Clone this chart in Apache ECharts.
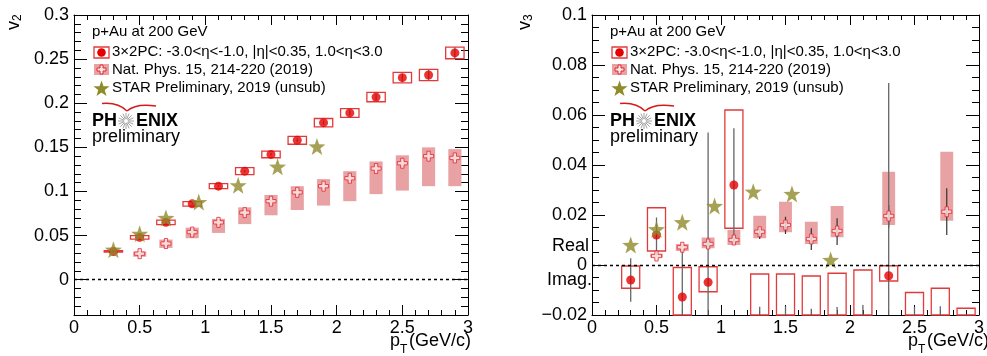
<!DOCTYPE html>
<meta charset="utf-8">
<style>
html, body { margin: 0; padding: 0; background: #fff; }
#container { width: 987px; height: 356px; }
</style>
<body>
<div id="container"></div>
<script src="https://cdn.jsdelivr.net/npm/echarts@6/dist/echarts.min.js"></script>
<script>

// ---- v2 panel ----
var ptV2 = [0.3, 0.5, 0.7, 0.9, 1.1, 1.3, 1.5, 1.7, 1.9, 2.1, 2.3, 2.5, 2.7, 2.9];
var v2Pc = [0.032, 0.048, 0.065, 0.086, 0.106, 0.123, 0.142, 0.158, 0.178, 0.189, 0.207, 0.229, 0.232, 0.257];
var v2PcSys = [0.0008, 0.0019, 0.0025, 0.0025, 0.0028, 0.004, 0.0038, 0.0045, 0.0047, 0.005, 0.0053, 0.0059, 0.0064, 0.0066];
var v2PcStat = [0.0003, 0.0005, 0.0006, 0.0008, 0.001, 0.0013, 0.0016, 0.002, 0.0025, 0.003, 0.0035, 0.0045, 0.0055, 0.0065];

var ptNat2 = [0.5, 0.7, 0.9, 1.1, 1.3, 1.5, 1.7, 1.9, 2.1, 2.3, 2.5, 2.7, 2.9];
var v2Nat = [0.0295, 0.041, 0.054, 0.065, 0.076, 0.089, 0.099, 0.106, 0.115, 0.126, 0.132, 0.140, 0.138];
var v2NatLo = [0.026, 0.036, 0.047, 0.053, 0.063, 0.073, 0.079, 0.084, 0.089, 0.097, 0.101, 0.106, 0.106];
var v2NatHi = [0.032, 0.0455, 0.059, 0.069, 0.082, 0.096, 0.106, 0.114, 0.123, 0.134, 0.141, 0.150, 0.148];

var ptStar2 = [0.3, 0.5, 0.7, 0.95, 1.25, 1.55, 1.85];
var v2Star = [0.034, 0.052, 0.070, 0.088, 0.107, 0.128, 0.151];

// ---- v3 panel ----
var ptV3 = [0.3, 0.5, 0.7, 0.9, 1.1, 1.3, 1.5, 1.7, 1.9, 2.1, 2.3, 2.5, 2.7, 2.9];
var v3Pc = [-0.006, 0.012, -0.0128, -0.0069, 0.032, -0.03, -0.03, -0.031, -0.03, -0.029, -0.0043, -0.032, -0.031, -0.035];
var v3PcLo = [-0.0093, 0.0056, -0.0245, -0.0107, 0.0147, -0.056, -0.056, -0.058, -0.057, -0.056, -0.0064, -0.053, -0.053, -0.053];
var v3PcHi = [-0.0004, 0.0229, -0.001, -0.0007, 0.062, -0.0036, -0.0036, -0.0044, -0.0033, -0.002, -0.0003, -0.011, -0.0093, -0.0173];
var v3StatLo = [-0.0147, 0.004, -0.032, -0.067, 0.008, -0.043, -0.043, -0.045, -0.043, -0.042, -0.081, -0.047, -0.046, -0.05];
var v3StatHi = [0.0027, 0.019, 0.006, 0.053, 0.0547, -0.0167, -0.0165, -0.0175, -0.0168, -0.016, 0.0728, -0.0167, -0.0165, -0.02];

var ptNat3 = [0.5, 0.7, 0.9, 1.1, 1.3, 1.5, 1.7, 1.9, 2.3, 2.75];
var v3Nat = [0.0036, 0.0071, 0.0084, 0.010, 0.0133, 0.016, 0.0104, 0.0136, 0.0196, 0.0213];
var v3NatLo = [0.003, 0.0056, 0.0067, 0.008, 0.0107, 0.0131, 0.0084, 0.0111, 0.016, 0.0177];
var v3NatHi = [0.0045, 0.0084, 0.011, 0.014, 0.0197, 0.0253, 0.0173, 0.0236, 0.0373, 0.0453];
var v3NatStatLo = [0.0036, 0.0071, 0.0084, 0.0095, 0.0104, 0.0124, 0.006, 0.008, 0.0149, 0.012];
var v3NatStatHi = [0.0036, 0.0071, 0.0084, 0.0105, 0.0147, 0.0193, 0.0147, 0.0187, 0.024, 0.0307];

var ptStar3 = [0.3, 0.5, 0.7, 0.95, 1.25, 1.55, 1.85];
var v3Star = [0.008, 0.0143, 0.0171, 0.0236, 0.0293, 0.0284, 0.002];

var v2Ticks = [0, 0.05, 0.1, 0.15, 0.2, 0.25, 0.3];

var legendTexts = ['3\u00d72PC: -3.0<\u03b7<-1.0, |\u03b7|<0.35, 1.0<\u03b7<3.0',
                   'Nat. Phys. 15, 214-220 (2019)',
                   'STAR Preliminary, 2019 (unsub)'];

var FONT = '"Liberation Sans", Arial, Helvetica, sans-serif';
var RED = '#e50000', BOXRED = '#e23a3a', PINK = '#e9a2a3', OLIVE = '#8e8b2a', BARGRAY = '#666';
var STAR = 'path://M0,-10L2.35,-3.24L9.51,-3.09L3.8,1.24L5.88,8.09L0,4L-5.88,8.09L-3.8,1.24L-9.51,-3.09L-2.35,-3.24Z';
var CROSS = 'path://M-1,-3L1,-3L1,-1L3,-1L3,1L1,1L1,3L-1,3L-1,1L-3,1L-3,-1L-1,-1Z';

function zip(xs, a, b) {
  return xs.map(function (x, i) { return b ? [x, a[i], b[i]] : [x, a[i]]; });
}
function symm(xs, v, e) {
  return xs.map(function (x, i) { return [x, v[i] - e[i], v[i] + e[i]]; });
}

function boxRender(hw, style) {
  return function (params, api) {
    var a = api.coord([api.value(0) - hw, api.value(2)]);
    var b = api.coord([api.value(0) + hw, api.value(1)]);
    var rect = echarts.graphic.clipRectByRect(
      { x: a[0], y: a[1], width: b[0] - a[0], height: b[1] - a[1] }, params.coordSys);
    if (!rect) return;
    return { type: 'rect', shape: rect, style: Object.assign({}, style) };
  };
}

function barRender(color, width) {
  return function (params, api) {
    var cs = params.coordSys;
    var a = api.coord([api.value(0), api.value(2)]);
    var b = api.coord([api.value(0), api.value(1)]);
    var y1 = Math.max(a[1], cs.y), y2 = Math.min(b[1], cs.y + cs.height);
    if (y2 - y1 < 0.5) return;
    return { type: 'line', shape: { x1: a[0], y1: y1, x2: a[0], y2: y2 },
             style: { stroke: color, lineWidth: width } };
  };
}

var blk = { color: '#000', width: 1 };
function xAx(grid, pos) {
  return {
    type: 'value', gridIndex: grid, min: 0, max: 3, interval: 0.5, position: pos,
    axisLine: { show: true, onZero: false, lineStyle: blk },
    axisTick: { show: true, inside: true, length: 10, lineStyle: blk },
    minorTick: { show: true, splitNumber: 5, length: 5, lineStyle: blk },
    axisLabel: { show: pos === 'bottom', margin: 4, fontSize: 18, color: '#000', fontFamily: FONT,
                 showMinLabel: true, showMaxLabel: true },
    splitLine: { show: false }
  };
}
function yMajor2(pos) {
  return {
    type: 'value', gridIndex: 0, min: -0.04, max: 0.3, position: pos,
    axisLine: { show: true, onZero: false, lineStyle: blk },
    axisTick: { show: true, inside: true, length: 13, lineStyle: blk, customValues: v2Ticks },
    axisLabel: { show: pos === 'left', customValues: v2Ticks, margin: 5, fontSize: 18,
                 color: '#000', fontFamily: FONT },
    splitLine: { show: false }
  };
}
function yMinor2(pos) {
  return {
    type: 'value', gridIndex: 0, min: -0.04, max: 0.3, interval: 0.01, position: pos,
    axisLine: { show: false, onZero: false },
    axisTick: { show: true, inside: true, length: 7, lineStyle: blk },
    axisLabel: { show: false },
    splitLine: { show: false }
  };
}
function y3(pos) {
  return {
    type: 'value', gridIndex: 1, min: -0.02, max: 0.1, interval: 0.02, position: pos,
    axisLine: { show: true, onZero: false, lineStyle: blk },
    axisTick: { show: true, inside: true, length: 13, lineStyle: blk },
    minorTick: { show: true, splitNumber: 4, length: 7, lineStyle: blk },
    axisLabel: { show: pos === 'left', margin: 5, fontSize: 18, color: '#000', fontFamily: FONT,
                 formatter: function (v) {
                   v = parseFloat(v.toFixed(4));
                   return v < 0 ? '\u2212' + Math.abs(v) : String(v);
                 } },
    splitLine: { show: false }
  };
}

var zeroLine = {
  silent: true, symbol: 'none', label: { show: false },
  lineStyle: { color: '#000', type: [3, 3], width: 1.3 },
  data: [{ yAxis: 0 }]
};

function panelSeries(xi, yi, d) {
  return [
    { type: 'custom', xAxisIndex: xi, yAxisIndex: yi, data: d.natBox,
      renderItem: boxRender(0.05, { fill: PINK, stroke: 'none' }), markLine: zeroLine },
    { type: 'custom', xAxisIndex: xi, yAxisIndex: yi, data: d.natStat,
      renderItem: barRender('#333', 1.2) },
    { type: 'custom', xAxisIndex: xi, yAxisIndex: yi, data: d.pcBox,
      renderItem: boxRender(0.07, { fill: 'none', stroke: BOXRED, lineWidth: 1.3 }) },
    { type: 'custom', xAxisIndex: xi, yAxisIndex: yi, data: d.pcStat,
      renderItem: barRender(BARGRAY, 1.3) },
    { type: 'scatter', xAxisIndex: xi, yAxisIndex: yi, data: d.nat, symbol: CROSS, symbolSize: 10,
      itemStyle: { color: '#fbe8e8', borderColor: '#e3262e', borderWidth: 1 } },
    { type: 'scatter', xAxisIndex: xi, yAxisIndex: yi, data: d.pc, symbol: 'circle', symbolSize: 9,
      itemStyle: { color: RED } },
    { type: 'scatter', xAxisIndex: xi, yAxisIndex: yi, data: d.star, symbol: STAR, symbolSize: 17,
      itemStyle: { color: OLIVE } }
  ];
}

function starPts(cx, cy, s) {
  var p = [[0,-10],[2.35,-3.24],[9.51,-3.09],[3.8,1.24],[5.88,8.09],[0,4],[-5.88,8.09],[-3.8,1.24],[-9.51,-3.09],[-2.35,-3.24]];
  return p.map(function (q) { return [cx + q[0] * s, cy + q[1] * s]; });
}
function crossPts(cx, cy, s) {
  var p = [[-1,-3],[1,-3],[1,-1],[3,-1],[3,1],[1,1],[1,3],[-1,3],[-1,1],[-3,1],[-3,-1],[-1,-1]];
  return p.map(function (q) { return [cx + q[0] * s, cy + q[1] * s]; });
}

function overlay(ox, sub) {
  var els = [];
  var txt = function (x, y, s, size, extra) {
    els.push({ type: 'text', x: x, y: y, silent: true,
      style: Object.assign({ text: s, fontSize: size, fontFamily: FONT, fill: '#000',
                             textVerticalAlign: 'middle' }, extra || {}) });
  };
  txt(ox + 92, 32, 'p+Au at 200 GeV', 15);
  txt(ox + 112, 52, legendTexts[0], 15);
  txt(ox + 112, 70, legendTexts[1], 15);
  txt(ox + 112, 88, legendTexts[2], 15);
  els.push({ type: 'rect', silent: true, shape: { x: ox + 94, y: 47, width: 15, height: 11 },
             style: { fill: 'none', stroke: BOXRED, lineWidth: 1.3 } });
  els.push({ type: 'circle', silent: true, shape: { cx: ox + 101.5, cy: 52.5, r: 4.3 }, style: { fill: RED } });
  els.push({ type: 'rect', silent: true, shape: { x: ox + 94, y: 64, width: 15, height: 11 },
             style: { fill: PINK } });
  els.push({ type: 'polygon', silent: true, shape: { points: crossPts(ox + 101.5, 69.5, 1.5) },
             style: { fill: '#fbe8e8', stroke: '#e3262e', lineWidth: 1 } });
  els.push({ type: 'polygon', silent: true, shape: { points: starPts(ox + 101.5, 89, 0.85) },
             style: { fill: OLIVE } });
  // PHENIX logo
  txt(ox + 92, 121, 'PH', 18, { fontWeight: 'bold' });
  txt(ox + 136, 121, 'ENIX', 18, { fontWeight: 'bold' });
  for (var k = 0; k < 16; k++) {
    var a = k * Math.PI / 8;
    els.push({ type: 'line', silent: true,
      shape: { x1: ox + 126 + 2 * Math.cos(a), y1: 121 + 2 * Math.sin(a),
               x2: ox + 126 + 8 * Math.cos(a), y2: 121 + 8 * Math.sin(a) },
      style: { stroke: '#8a8a8a', lineWidth: 0.8 } });
  }
  els.push({ type: 'bezierCurve', silent: true,
    shape: { x1: ox + 102, y1: 103.5, cpx1: ox + 118, cpy1: 102, x2: ox + 127, y2: 111 },
    style: { stroke: '#d41a1a', lineWidth: 1.4, fill: 'none' } });
  els.push({ type: 'bezierCurve', silent: true,
    shape: { x1: ox + 127, y1: 111, cpx1: ox + 136, cpy1: 103, x2: ox + 156, y2: 106 },
    style: { stroke: '#d41a1a', lineWidth: 1.4, fill: 'none' } });
  txt(ox + 92, 137, 'preliminary', 18);
  // y title v_n, rotated
  var yt = ox === 0 ? 14 : 525;
  els.push({ type: 'text', x: yt, y: 30, rotation: Math.PI / 2, silent: true,
    style: { text: '{v|v}{s|' + sub + '}', fontFamily: FONT, fill: '#000', textVerticalAlign: 'middle',
      rich: { v: { fontSize: 18, fontFamily: FONT }, s: { fontSize: 12, fontFamily: FONT, padding: [8, 0, 0, 0] } } } });
  // x title
  var xt = ox === 0 ? 390 : 908;
  txt(xt, 341, 'p', 18);
  txt(xt + 10, 350, 'T', 12);
  txt(xt + 19, 341, '(GeV/c)', 18);
  return els;
}

var extraLabels = [
  { type: 'text', x: 589, y: 246, silent: true,
    style: { text: 'Real', fontSize: 18, fontFamily: FONT, fill: '#000', textAlign: 'right', textVerticalAlign: 'middle' } },
  { type: 'text', x: 592, y: 280, silent: true,
    style: { text: 'Imag.', fontSize: 18, fontFamily: FONT, fill: '#000', textAlign: 'right', textVerticalAlign: 'middle' } }
];

var d2 = {
  natBox: zip(ptNat2, v2NatLo, v2NatHi),
  natStat: [],
  pcBox: symm(ptV2, v2Pc, v2PcSys),
  pcStat: symm(ptV2, v2Pc, v2PcStat),
  nat: zip(ptNat2, v2Nat),
  pc: zip(ptV2, v2Pc),
  star: zip(ptStar2, v2Star)
};
var d3 = {
  natBox: zip(ptNat3, v3NatLo, v3NatHi),
  natStat: zip(ptNat3, v3NatStatLo, v3NatStatHi),
  pcBox: zip(ptV3, v3PcLo, v3PcHi),
  pcStat: zip(ptV3, v3StatLo, v3StatHi),
  nat: zip(ptNat3, v3Nat),
  pc: zip(ptV3, v3Pc),
  star: zip(ptStar3, v3Star)
};

var myChart = echarts.init(document.getElementById('container'), null, { renderer: 'canvas' });

var option = {
  animation: false,
  backgroundColor: '#fff',
  grid: [
    { left: 74, top: 15, width: 394, height: 300 },
    { left: 592, top: 15, width: 393, height: 300 }
  ],
  xAxis: [xAx(0, 'bottom'), xAx(0, 'top'), xAx(1, 'bottom'), xAx(1, 'top')],
  yAxis: [yMajor2('left'), yMinor2('left'), yMajor2('right'), yMinor2('right'), y3('left'), y3('right')],
  series: panelSeries(0, 0, d2).concat(panelSeries(2, 4, d3)),
  graphic: overlay(0, '2').concat(overlay(518, '3')).concat(extraLabels)
};

myChart.setOption(option);
window.addEventListener('resize', myChart.resize);
</script>
</body>
